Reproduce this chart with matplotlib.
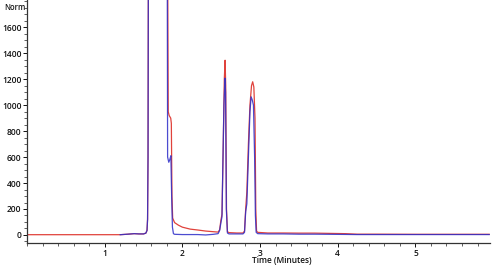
import matplotlib
matplotlib.use("Agg")
import matplotlib.pyplot as plt
from matplotlib.ticker import MultipleLocator

# Red trace (time in minutes, normalized response)
red_t = [0.0, 1.20, 1.30, 1.38, 1.44, 1.50, 1.53, 1.545, 1.552, 1.558, 1.562,
         1.812, 1.818, 1.83, 1.85, 1.858, 1.866, 1.875, 1.90, 1.95, 2.00, 2.10,
         2.20, 2.30, 2.40, 2.46, 2.48, 2.495, 2.51, 2.525, 2.54, 2.55, 2.558,
         2.568, 2.58, 2.60, 2.70, 2.78, 2.80, 2.815, 2.83, 2.85, 2.87, 2.89,
         2.905, 2.92, 2.935, 2.945, 2.955, 2.97, 3.10, 3.30, 3.50, 3.70, 3.90,
         4.10, 4.25, 4.50, 5.00, 5.50, 5.95]
red_v = [2, 2, 6, 10, 8, 8, 14, 35, 120, 600, 1900,
         1900, 950, 920, 900, 860, 300, 130, 95, 75, 60, 45,
         38, 30, 25, 22, 40, 110, 160, 650, 1200, 1346, 1150,
         200, 25, 18, 15, 15, 30, 200, 330, 700, 1000, 1150,
         1180, 1140, 900, 200, 30, 20, 15, 15, 14, 14, 12,
         10, 6, 6, 5, 5, 5]

# Blue trace
blue_t = [1.20, 1.30, 1.38, 1.44, 1.50, 1.53, 1.545, 1.552, 1.558, 1.562,
          1.806, 1.810, 1.825, 1.838, 1.852, 1.862, 1.872, 1.885, 1.90, 2.00,
          2.10, 2.20, 2.30, 2.40, 2.46, 2.48, 2.495, 2.51, 2.52, 2.535, 2.548,
          2.556, 2.566, 2.58, 2.60, 2.70, 2.78, 2.80, 2.815, 2.83, 2.85, 2.87,
          2.885, 2.90, 2.915, 2.93, 2.94, 2.95, 2.97, 3.10, 3.30, 3.50, 3.70,
          3.90, 4.10, 4.25, 4.50, 5.00, 5.50, 5.95]
blue_v = [2, 6, 10, 8, 8, 14, 35, 120, 600, 1900,
          1900, 600, 560, 580, 610, 300, 60, 10, 5, 3,
          3, 3, 0, 5, 10, 35, 90, 140, 500, 1000, 1208,
          1100, 200, 15, 8, 8, 8, 20, 180, 240, 600, 950,
          1064, 1040, 1000, 600, 150, 20, 10, 8, 8, 6, 6,
          5, 4, 3, 3, 3, 3, 3]

x_ticks = [1, 2, 3, 4, 5]
y_ticks = [0, 200, 400, 600, 800, 1000, 1200, 1400, 1600]

fig = plt.figure(figsize=(5.0, 2.67), dpi=100)
ax = fig.add_axes([27 / 500, 1 - 243 / 267, 463 / 500, 243 / 267])

ax.plot(red_t, red_v, color="#e0423c", lw=0.9, zorder=2)
ax.plot(blue_t, blue_v, color="#2c2cc8", lw=0.9, alpha=0.85, zorder=3)

ax.set_xlim(0, 5.96)
ax.set_ylim(-62, 1810)

for s in ["top", "right"]:
    ax.spines[s].set_visible(False)
for s in ["left", "bottom"]:
    ax.spines[s].set_linewidth(0.9)
    ax.spines[s].set_color("#333333")

ax.set_xticks(x_ticks)
ax.set_yticks(y_ticks)
ax.xaxis.set_minor_locator(MultipleLocator(0.2))
ax.yaxis.set_minor_locator(MultipleLocator(50))
ax.tick_params(axis="both", which="major", length=3, width=0.7,
               labelsize=6, pad=1.0, colors="#111111")
ax.tick_params(axis="both", which="minor", length=2, width=0.6, colors="#444444")

for lab in ax.get_xticklabels() + ax.get_yticklabels():
    lab.set_family("Open Sans")
    lab.set_weight("semibold")

ax.set_xlabel("Time (Minutes)", fontsize=6, family="Open Sans", color="#111111",
              weight="semibold")
ax.xaxis.set_label_coords((282 - 27) / 463, -0.055)

fig.text(4 / 500, 1 - 7 / 267, "Norm", fontsize=5.5, family="Open Sans",
         color="#111111", va="center", ha="left", weight="semibold")

fig.savefig("out.png", dpi=100)
